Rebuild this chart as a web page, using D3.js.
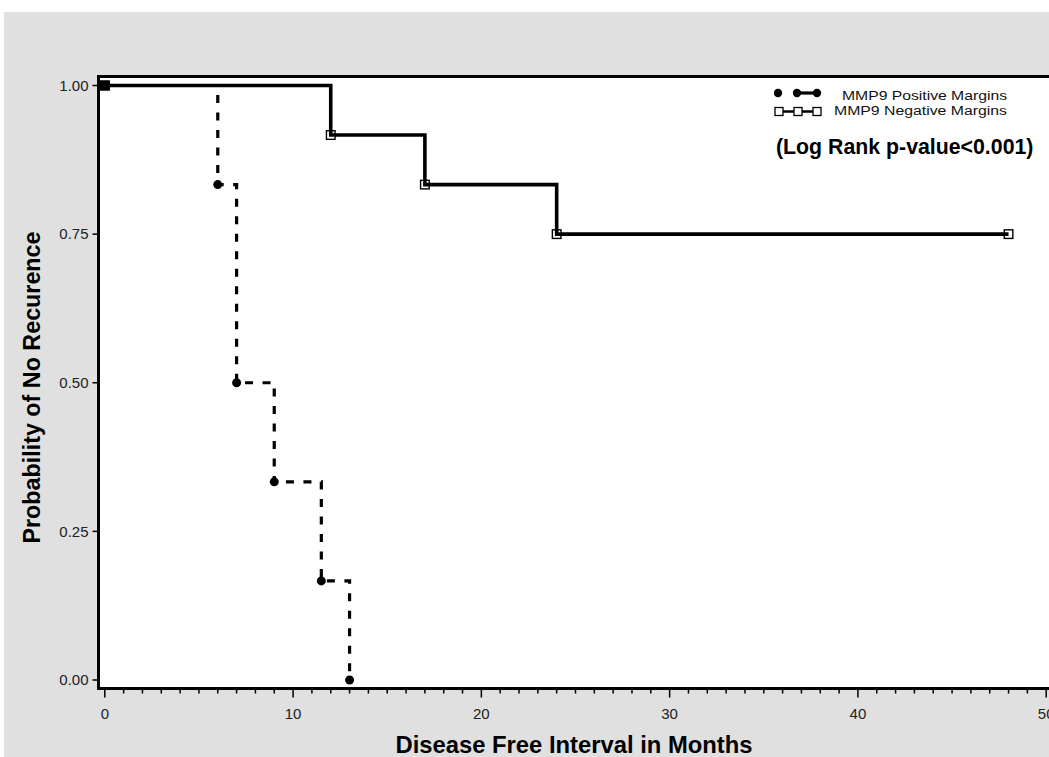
<!DOCTYPE html>
<html><head><meta charset="utf-8">
<script src="https://cdn.jsdelivr.net/npm/d3@7/dist/d3.min.js"></script>
<style>body{margin:0;background:#fff}svg{display:block}text{font-family:"Liberation Sans",Arial,sans-serif}</style>
</head><body><svg id="c" width="1049" height="757"></svg>
<script>
// Data
const posTimes = [0, 6, 7, 9, 11.5, 13];
const posSurv  = [1, 0.8333, 0.5, 0.3333, 0.1667, 0];
const negTimes = [0, 12, 17, 24, 48];
const negSurv  = [1, 0.9167, 0.8333, 0.75, 0.75];
const xTicks = [0, 10, 20, 30, 40, 50];
const yTicks = [0, 0.25, 0.5, 0.75, 1];
const legendLabels = ["MMP9 Positive Margins", "MMP9 Negative Margins"];
const xTitle = "Disease Free Interval in Months";
const yTitle = "Probability of No Recurence";
const note = "(Log Rank p-value<0.001)";

const svg = d3.select("#c");
svg.append("rect").attr("x",4).attr("y",12).attr("width",1045).attr("height",745).attr("fill","#e0e0e0");

const x = d3.scaleLinear().domain([0, 50]).range([104.8, 1046.2]);
const y = d3.scaleLinear().domain([0, 1]).range([680, 85.5]);

// plot frame
const frameL = 98.5, frameT = 76.5, frameB = 688.5, frameR = 1065;
svg.append("rect").attr("x",frameL).attr("y",frameT).attr("width",frameR-frameL).attr("height",frameB-frameT)
  .attr("fill","#fff").attr("stroke","#000").attr("stroke-width",3);

// x axis ticks
const minor = d3.range(0, 51, 1);
svg.append("g").selectAll("line").data(minor).join("line")
  .attr("x1",d=>x(d)).attr("x2",d=>x(d)).attr("y1",frameB+1).attr("y2",d=>d%10===0?frameB+9:frameB+5)
  .attr("stroke","#000").attr("stroke-width",1.5);
svg.append("g").selectAll("text").data(xTicks).join("text")
  .attr("x",d=>x(d)).attr("y",719).attr("text-anchor","middle").attr("font-size",15).attr("fill","#222")
  .text(d=>d);

// y axis ticks
svg.append("g").selectAll("line").data(yTicks).join("line")
  .attr("x1",frameL-6).attr("x2",frameL-1).attr("y1",d=>y(d)).attr("y2",d=>y(d))
  .attr("stroke","#000").attr("stroke-width",1.5);
svg.append("g").selectAll("text").data(yTicks).join("text")
  .attr("x",88.5).attr("y",d=>y(d)+5.3).attr("text-anchor","end").attr("font-size",15).attr("fill","#222")
  .text(d=>d3.format(".2f")(d));

// titles
svg.append("text").attr("x",574).attr("y",753).attr("text-anchor","middle").attr("font-size",23.8)
  .attr("font-weight","bold").attr("fill","#000").text(xTitle);
svg.append("text").attr("transform","translate(39.5,387.5) rotate(-90)").attr("text-anchor","middle")
  .attr("font-size",23.3).attr("font-weight","bold").attr("fill","#000").text(yTitle);

// step curves
function stepPts(t, s){
  const pts = [];
  for(let i=0;i<t.length;i++){
    if(i>0) pts.push([t[i], s[i-1]]);
    pts.push([t[i], s[i]]);
  }
  return pts;
}
const line = d3.line().x(d=>x(d[0])).y(d=>y(d[1]));
svg.append("path").attr("d", line(stepPts(posTimes, posSurv)))
  .attr("fill","none").attr("stroke","#000").attr("stroke-width",3.2).attr("stroke-dasharray","8,9.5");
svg.append("path").attr("d", line(stepPts(negTimes, negSurv)))
  .attr("fill","none").attr("stroke","#000").attr("stroke-width",3.6).attr("stroke-linejoin","miter");

// markers
svg.append("g").selectAll("rect").data(negTimes.map((t,i)=>[t,negSurv[i]])).join("rect")
  .attr("x",d=>x(d[0])-4.3).attr("y",d=>y(d[1])-4.3).attr("width",8.6).attr("height",8.6)
  .attr("fill","none").attr("stroke","#000").attr("stroke-width",1.4);
svg.append("g").selectAll("circle").data(posTimes.map((t,i)=>[t,posSurv[i]])).join("circle")
  .attr("cx",d=>x(d[0])).attr("cy",d=>y(d[1])).attr("r",4.5).attr("fill","#000");
// combined start marker
svg.append("rect").attr("x",x(posTimes[0])-7).attr("y",y(posSurv[0])-5).attr("width",12).attr("height",10).attr("fill","#000");

// legend
const lg = svg.append("g");
lg.append("line").attr("x1",797).attr("x2",817).attr("y1",93).attr("y2",93)
  .attr("stroke","#000").attr("stroke-width",3.2);
lg.selectAll("circle").data([778, 797, 817]).join("circle")
  .attr("cx",d=>d).attr("cy",93).attr("r",4.2).attr("fill","#000");
lg.append("line").attr("x1",776).attr("x2",820).attr("y1",111.5).attr("y2",111.5)
  .attr("stroke","#000").attr("stroke-width",2.5);
lg.selectAll("rect").data([779, 798, 817]).join("rect")
  .attr("x",d=>d-4).attr("y",107.5).attr("width",8).attr("height",8)
  .attr("fill","#fff").attr("stroke","#000").attr("stroke-width",1.3);
lg.append("text").attr("x",1007).attr("y",99.5).attr("text-anchor","end").attr("font-size",12.5)
  .attr("textLength",165).attr("lengthAdjust","spacingAndGlyphs").attr("fill","#111").text(legendLabels[0]);
lg.append("text").attr("x",1007).attr("y",115.3).attr("text-anchor","end").attr("font-size",12.5)
  .attr("textLength",173).attr("lengthAdjust","spacingAndGlyphs").attr("fill","#111").text(legendLabels[1]);
svg.append("text").attr("x",776).attr("y",153.5).attr("font-size",21.3).attr("font-weight","bold")
  .attr("fill","#000").text(note);
</script></body></html>
